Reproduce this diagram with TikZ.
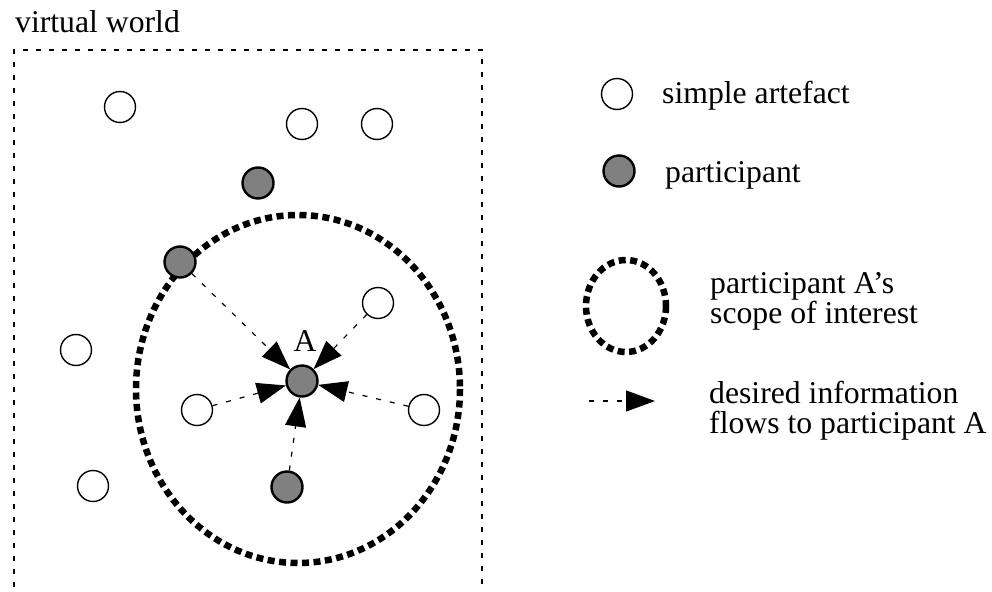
\documentclass[tikz,border=0pt]{standalone}
\usepackage{fontspec}
\setmainfont{Liberation Serif}
\usetikzlibrary{arrows.meta}
\begin{document}
\begin{tikzpicture}[x=1pt,y=-1pt,
  art/.style={circle,draw=black,line width=1.4pt,fill=white,minimum size=31pt,inner sep=0pt},
  part/.style={circle,draw=black,line width=2.4pt,fill=gray!100!white,minimum size=31pt,inner sep=0pt},
  flow/.style={line width=1.2pt,dash pattern=on 5pt off 9pt,-{Triangle[length=29pt,width=21pt]}},
  scope/.style={line width=6.5pt,dash pattern=on 7pt off 4.5pt},
  world/.style={line width=2.2pt,dash pattern=on 5pt off 8pt},
  txt/.style={font=\fontsize{31.7}{36}\selectfont,inner sep=0pt},
]
\useasboundingbox (0,0) rectangle (992,591);
% world box
\draw[world] (14,600) -- (14,50) -- (482,50) -- (482,600);
\node[txt,anchor=base west] (vw) at (15,33) {virtual world};
% scope ellipse
\draw[scope] (298,389) ellipse [x radius=162, y radius=174];
% nodes
\node[art] (a1) at (120,107) {};
\node[art] (a2) at (302,124) {};
\node[art] (a3) at (377,124) {};
\node[part] (p1) at (258,183) {};
\node[part] (p2) at (180,262) {};
\node[art] (a4) at (378,303) {};
\node[art] (a5) at (76,350) {};
\node[part] (A) at (302,381) {};
\node[txt] (Alab) at (305,341) {A};
\node[art] (a6) at (197,410) {};
\node[art] (a7) at (424,410) {};
\node[art] (a8) at (93,486) {};
\node[part] (p3) at (287,487) {};
% flows
\draw[flow] (p2) -- (A);
\draw[flow] (a4) -- (A);
\draw[flow] (a6) -- (A);
\draw[flow] (a7) -- (A);
\draw[flow] (p3) -- (A);
% legend
\node[art] (la) at (617,94) {};
\node[txt,anchor=base west] (lat) at (662,103) {simple artefact};
\node[part] (lp) at (619,171) {};
\node[txt,anchor=base west] (lpt) at (665,182) {participant};
\draw[scope] (626,306) ellipse [x radius=40, y radius=46];
\node[txt,anchor=base west] (lst1) at (710,293) {participant A’s};
\node[txt,anchor=base west] (lst2) at (710,323) {scope of interest};
\coordinate (lf1) at (589,401);
\coordinate (lf2) at (655,401);
\draw[flow] (lf1) -- (lf2);
\node[txt,anchor=base west] (lft1) at (709,403) {desired information};
\node[txt,anchor=base west] (lft2) at (709,433) {flows to participant A};
\end{tikzpicture}
\end{document}
